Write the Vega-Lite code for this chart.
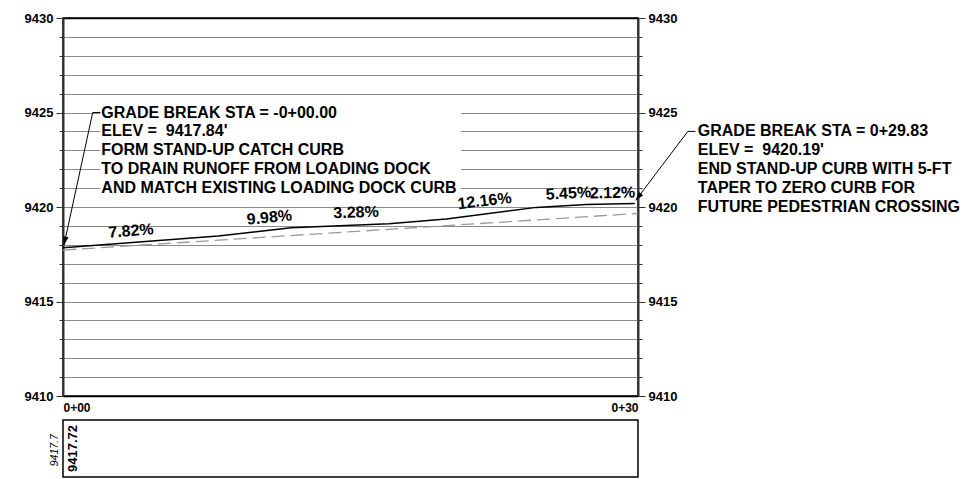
{
  "$schema": "https://vega.github.io/schema/vega-lite/v6.json",
  "background": "white",
  "padding": {"left": 23, "top": 11, "right": 2, "bottom": 1},
  "bounds": "flush",
  "spacing": 24,
  "datasets": {
    "profile": [
      {"sta": 0, "elev": 9417.84},
      {"sta": 8.1, "elev": 9418.47},
      {"sta": 11.9, "elev": 9418.9},
      {"sta": 17.0, "elev": 9419.12},
      {"sta": 20.0, "elev": 9419.36},
      {"sta": 24.7, "elev": 9419.98},
      {"sta": 27.3, "elev": 9420.13},
      {"sta": 29.83, "elev": 9420.19}
    ],
    "existing": [
      {"sta": 0, "elev": 9417.72},
      {"sta": 30, "elev": 9419.66}
    ],
    "slopes": [
      {"sta": 3.55, "elev": 9418.73, "label": "7.82%", "pct": 7.82},
      {"sta": 10.77, "elev": 9419.44, "label": "9.98%", "pct": 9.98},
      {"sta": 15.29, "elev": 9419.71, "label": "3.28%", "pct": 3.28},
      {"sta": 21.99, "elev": 9420.32, "label": "12.16%", "pct": 12.16},
      {"sta": 26.37, "elev": 9420.71, "label": "5.45%", "pct": 5.45},
      {"sta": 28.67, "elev": 9420.74, "label": "2.12%", "pct": 2.12}
    ],
    "notes": [
      {"sta": 2.0, "elev": 9425, "text": "GRADE BREAK STA = -0+00.00"},
      {"sta": 2.0, "elev": 9424, "text": "ELEV = \u00a09417.84'"},
      {"sta": 2.0, "elev": 9423, "text": "FORM STAND-UP CATCH CURB"},
      {"sta": 2.0, "elev": 9422, "text": "TO DRAIN RUNOFF FROM LOADING DOCK"},
      {"sta": 2.0, "elev": 9421, "text": "AND MATCH EXISTING LOADING DOCK CURB"},
      {"sta": 33.12, "elev": 9424, "text": "GRADE BREAK STA = 0+29.83"},
      {"sta": 33.12, "elev": 9423, "text": "ELEV = \u00a09420.19'"},
      {"sta": 33.12, "elev": 9422, "text": "END STAND-UP CURB WITH 5-FT"},
      {"sta": 33.12, "elev": 9421, "text": "TAPER TO ZERO CURB FOR"},
      {"sta": 33.12, "elev": 9420, "text": "FUTURE PEDESTRIAN CROSSING"}
    ],
    "mask": [
      {"sta": 1.95, "sta2": 20.76, "elev": 9420.5, "elev2": 9425.5}
    ],
    "leaders": [
      {"id": "a", "ord": 1, "sta": 1.95, "elev": 9425},
      {"id": "a", "ord": 2, "sta": 1.55, "elev": 9425},
      {"id": "a", "ord": 3, "sta": 0.05, "elev": 9417.98},
      {"id": "b", "ord": 1, "sta": 33.0, "elev": 9424},
      {"id": "b", "ord": 2, "sta": 32.6, "elev": 9424},
      {"id": "b", "ord": 3, "sta": 29.88, "elev": 9420.35}
    ],
    "arrows": [
      {"sta": 0.05, "elev": 9417.98, "tilt": 12.2},
      {"sta": 29.88, "elev": 9420.35, "tilt": 37.1}
    ],
    "box": [
      {"sta": 0.5, "pos": 0.5, "text": "9417.72", "kind": "design"},
      {"sta": -0.44, "pos": 0.47, "text": "9417.7", "kind": "exist"}
    ]
  },
  "vconcat": [
    {
      "width": 575,
      "height": 378,
      "layer": [
        {
          "encoding": {
            "x": {
              "field": "sta", "type": "quantitative", "title": null,
              "scale": {"domain": [0, 30], "nice": false, "zero": false},
              "axis": {
                "values": [0, 30],
                "labelExpr": "datum.value == 0 ? '0+00' : '0+' + datum.value",
                "grid": false, "ticks": false, "domain": false,
                "labelFont": "Liberation Sans", "labelFontWeight": "bold", "labelFontSize": 12,
                "labelColor": "#000", "labelPadding": 6, "title": null
              }
            },
            "y": {
              "field": "elev", "type": "quantitative", "title": null,
              "scale": {"domain": [9410, 9430], "nice": false, "zero": false},
              "axis": {
                "orient": "left",
                "values": [9410, 9411, 9412, 9413, 9414, 9415, 9416, 9417, 9418, 9419, 9420, 9421, 9422, 9423, 9424, 9425, 9426, 9427, 9428, 9429, 9430],
                "labelExpr": "datum.value % 5 === 0 ? datum.label : ''",
                "format": "d",
                "grid": true,
                "gridColor": {"condition": {"test": "datum.value === 9410 || datum.value === 9430", "value": "#000000"}, "value": "#8a8a8a"},
                "gridWidth": {"condition": {"test": "datum.value === 9410 || datum.value === 9430", "value": 1.5}, "value": 1},
                "tickSize": {"condition": {"test": "datum.value % 5 === 0", "value": 7}, "value": 4},
                "tickColor": "#333333",
                "domainColor": "#333333", "domainWidth": 2,
                "labelFont": "Liberation Sans", "labelFontWeight": "bold", "labelFontSize": 13,
                "labelColor": "#000", "labelPadding": 3, "title": null
              }
            }
          },
          "layer": [
            {
              "data": {"name": "mask"},
              "mark": {"type": "rect", "fill": "white", "stroke": null},
              "encoding": {"x2": {"field": "sta2"}, "y2": {"field": "elev2"}}
            },
            {
              "data": {"name": "existing"},
              "mark": {"type": "line", "color": "#9a9a9a", "strokeWidth": 1.3, "strokeDash": [13, 6]}
            },
            {
              "data": {"name": "profile"},
              "mark": {"type": "line", "color": "#000000", "strokeWidth": 1.5}
            },
            {
              "data": {"name": "leaders"},
              "mark": {"type": "line", "color": "#000000", "strokeWidth": 1},
              "encoding": {"detail": {"field": "id"}, "order": {"field": "ord", "type": "quantitative"}}
            },
            {
              "data": {"name": "arrows"},
              "mark": {"type": "point", "shape": "M0,0L-0.32,-1L0.32,-1Z", "filled": true, "color": "#000000", "opacity": 1, "size": 300},
              "encoding": {"angle": {"field": "tilt", "type": "quantitative", "scale": null}}
            },
            {
              "data": {"name": "slopes"},
              "mark": {"type": "text", "font": "Liberation Sans", "fontWeight": "bold", "fontSize": 16, "color": "#000000", "baseline": "middle", "align": "center"},
              "encoding": {
                "text": {"field": "label"},
                "angle": {"field": "pct", "type": "quantitative", "scale": {"domain": [0, 12.16], "range": [360, 353.16]}, "legend": null}
              }
            },
            {
              "data": {"name": "notes"},
              "mark": {"type": "text", "font": "Liberation Sans", "fontWeight": "bold", "fontSize": 16, "color": "#000000", "baseline": "middle", "align": "left"},
              "encoding": {"text": {"field": "text"}}
            }
          ]
        },
        {
          "data": {"values": [{"sta": 0, "elev": 9420}]},
          "mark": {"type": "point", "opacity": 0},
          "encoding": {
            "x": {"field": "sta", "type": "quantitative", "title": null, "scale": {"domain": [0, 30], "nice": false, "zero": false}},
            "y": {
              "field": "elev", "type": "quantitative", "title": null,
              "scale": {"domain": [9410, 9430], "nice": false, "zero": false},
              "axis": {
                "orient": "right",
                "values": [9410, 9411, 9412, 9413, 9414, 9415, 9416, 9417, 9418, 9419, 9420, 9421, 9422, 9423, 9424, 9425, 9426, 9427, 9428, 9429, 9430],
                "labelExpr": "datum.value % 5 === 0 ? datum.label : ''",
                "format": "d",
                "grid": false,
                "tickSize": {"condition": {"test": "datum.value % 5 === 0", "value": 7}, "value": 4},
                "tickColor": "#333333",
                "domainColor": "#333333", "domainWidth": 2,
                "labelFont": "Liberation Sans", "labelFontWeight": "bold", "labelFontSize": 13,
                "labelColor": "#000", "labelPadding": 3, "title": null
              }
            }
          }
        }
      ],
      "resolve": {"scale": {"y": "independent"}}
    },
    {
      "width": 575,
      "height": 57,
      "data": {"name": "box"},
      "encoding": {
        "x": {"field": "sta", "type": "quantitative", "axis": null, "scale": {"domain": [0, 30], "nice": false, "zero": false}},
        "y": {"field": "pos", "type": "quantitative", "axis": null, "scale": {"domain": [0, 1], "nice": false, "zero": false}},
        "text": {"field": "text"}
      },
      "layer": [
        {
          "transform": [{"filter": "datum.kind === 'design'"}],
          "mark": {"type": "text", "font": "Liberation Sans", "fontWeight": "bold", "fontSize": 13, "color": "#000000", "angle": 270, "align": "center", "baseline": "middle"}
        },
        {
          "transform": [{"filter": "datum.kind === 'exist'"}],
          "mark": {"type": "text", "font": "Liberation Sans", "fontStyle": "italic", "fontSize": 10.5, "color": "#000000", "angle": 270, "align": "center", "baseline": "middle"}
        }
      ]
    }
  ],
  "config": {
    "view": {"stroke": "#000000", "strokeWidth": 1.5}
  }
}
